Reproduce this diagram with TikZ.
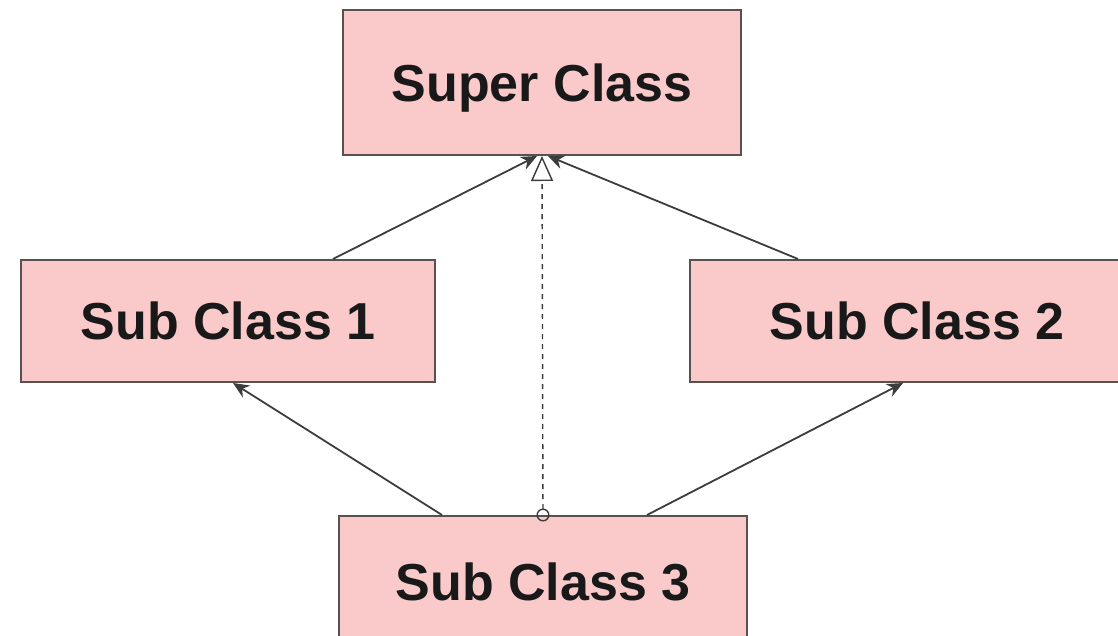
\documentclass[tikz,border=0pt]{standalone}
\usepackage{fontspec}
\setmainfont{Liberation Sans}
\usetikzlibrary{arrows.meta,calc}
\definecolor{clsfill}{RGB}{250,202,202}
\definecolor{clsline}{RGB}{90,80,80}
\definecolor{arrline}{RGB}{60,60,60}

\begin{document}
\begin{tikzpicture}[
    x=0.5pt, y=-0.5pt,
    cls/.style ={
        rectangle,
        fill=clsfill,
        draw=clsline,
        line width=1pt,
        text=black!90,
        font=\fontsize{26}{30}\selectfont\bfseries,
        text depth=0pt,
        inner sep=0pt
    },
    inh/.style ={-{Stealth[length=8pt,width=7pt]}, arrline, line width=0.9pt},
    real/.style ={{Circle[open,length=6.5pt,width=6.5pt]}-{Triangle[fill=white,length=12.5pt,width=11pt]},
        arrline, line width=0.7pt, dash pattern=on 2.5pt off 2.5pt}
    ]
    \clip (0,0) rectangle (1118,636);
    \fill[white] (0,0) rectangle (1118,636);

    \node[cls, minimum width=199pt, minimum height=72.5pt] (super) at (542,82.5) {Super Class};
    \node[cls, minimum width=207pt, minimum height=61pt] (sub1) at (228,321) {Sub Class 1};
    \node[cls, minimum width=227pt, minimum height=61pt] (sub2) at (917,321) {Sub Class 2};
    \node[cls, minimum width=204pt, minimum height=66pt] (sub3) at (543,582) {Sub Class 3};

    \draw[inh] ($(sub1.north)+(105,0)$) -- ($(super.south)+(-5,0)$);
    \draw[inh] ($(sub2.north)+(-119,0)$) -- ($(super.south)+(6,0)$);
    \draw[inh] ($(sub3.north)+(-101,0)$) -- ($(sub1.south)+(5,0)$);
    \draw[inh] ($(sub3.north)+(104,0)$) -- ($(sub2.south)+(-14,0)$);
    \draw[real] ($(sub3.north)+(0,6.5)$) -- (super.south);
\end{tikzpicture}
\end{document}
